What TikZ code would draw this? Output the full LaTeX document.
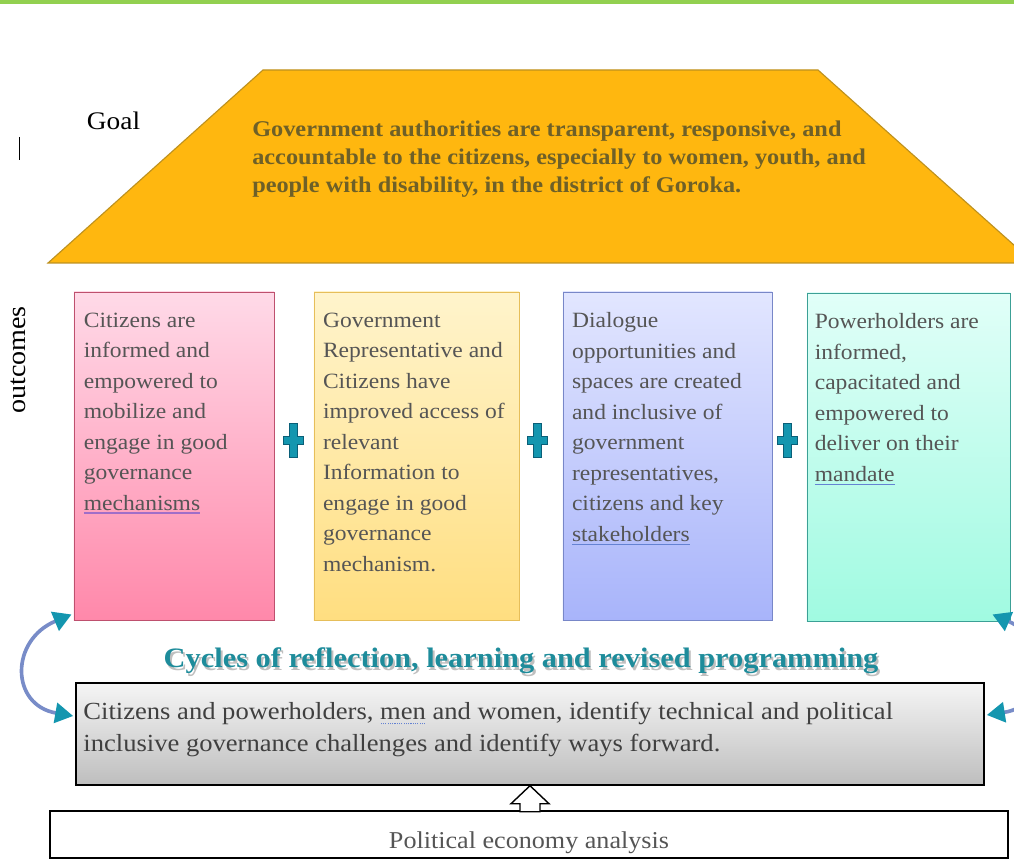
\documentclass[tikz,border=0pt]{standalone}
\usepackage{fontspec}
\setmainfont{Liberation Serif}[FakeStretch=1.08]
\usetikzlibrary{arrows.meta, positioning}

\definecolor{topbar}{RGB}{146,208,80}
\definecolor{goalfill}{RGB}{255,183,15}
\definecolor{goalline}{RGB}{190,145,30}
\definecolor{goalink}{RGB}{110,96,40}
\definecolor{boxtext}{RGB}{85,85,85}
\definecolor{pinktop}{RGB}{255,218,232}
\definecolor{pinkbot}{RGB}{255,136,170}
\definecolor{pinkline}{RGB}{190,80,110}
\definecolor{yeltop}{RGB}{255,244,204}
\definecolor{yelbot}{RGB}{255,222,128}
\definecolor{yelline}{RGB}{230,190,90}
\definecolor{bluetop}{RGB}{226,230,255}
\definecolor{bluebot}{RGB}{168,180,250}
\definecolor{blueline}{RGB}{120,135,200}
\definecolor{cyantop}{RGB}{225,255,248}
\definecolor{cyanbot}{RGB}{160,250,225}
\definecolor{cyanline}{RGB}{60,160,150}
\definecolor{plusfill}{RGB}{20,150,175}
\definecolor{plusline}{RGB}{10,95,120}
\definecolor{cycleink}{RGB}{30,140,155}
\definecolor{graytop}{RGB}{245,245,245}
\definecolor{graybot}{RGB}{190,190,190}
\definecolor{loopblue}{RGB}{120,140,200}
\definecolor{markpurple}{RGB}{160,110,200}
\definecolor{markblue}{RGB}{100,130,210}

% coloured marks under single words
\newsavebox{\markbox}
\newcommand{\wavemark}[2]{\sbox{\markbox}{#2}%
  \rlap{\textcolor{#1}{\rule[-0.35ex]{\wd\markbox}{0.9pt}}}\usebox{\markbox}}
\newcommand{\dotmark}[2]{\sbox{\markbox}{#2}%
  \rlap{\textcolor{#1}{\hbox to \wd\markbox{\xleaders\hbox to 1.6pt{\hss\rule[-0.4ex]{0.8pt}{0.8pt}\hss}\hfill}}}\usebox{\markbox}}

\begin{document}
\begin{tikzpicture}[x=0.025cm, y=-0.025cm,
    outbox/.style={draw, line width=0.6pt, minimum height=8.2cm, inner sep=0pt},
    outtext/.style={align=left, inner sep=0pt, text=boxtext,
                    font=\fontsize{15.5}{21.7}\selectfont},
    loopline/.style={line width=2.6pt, draw=loopblue,
                     {Triangle[length=0.45cm, width=0.5cm, color=plusfill]}-{Triangle[length=0.45cm, width=0.5cm, color=plusfill]}},
    plussign/.pic={
      \filldraw[fill=plusfill, draw=plusline, line width=0.5pt]
        (-4,-17) -- (4,-17) -- (4,-4) -- (10,-4) -- (10,4) -- (4,4) -- (4,17)
        -- (-4,17) -- (-4,4) -- (-10,4) -- (-10,-4) -- (-4,-4) -- cycle;
    },
  ]
    \useasboundingbox (0,0) rectangle (1014,860);
    \clip (0,0) rectangle (1014,860);

    % green bar on top
    \fill[topbar] (0,0) rectangle (1014,4);

    % goal roof
    \filldraw[fill=goalfill, draw=goalline, line width=0.8pt]
      (263,70) -- (818,70) -- (1034,263) -- (48,263) -- cycle;
    \node[anchor=west, font=\fontsize{18}{20}\selectfont] (goal) at (82,121) {Goal};
    \draw[line width=0.6pt] (19,137) -- (19,160);
    \node[anchor=north west, inner sep=0pt, align=left, text=goalink,
          font=\bfseries\fontsize{16}{19.9}\selectfont] (goaltext) at (252,121)
      {Government authorities are transparent, responsive, and\\
       accountable to the citizens, especially to women, youth, and\\
       people with disability, in the district of Goroka.};

    % outcome boxes
    \node[rotate=90, font=\fontsize{18.5}{20}\selectfont] (outcomes) at (18,360) {outcomes};
    \node[outbox, minimum width=5cm, top color=pinktop, bottom color=pinkbot,
          draw=pinkline] (oc1) at (174,456) {};
    \node[outbox, minimum width=5.125cm, top color=yeltop, bottom color=yelbot,
          draw=yelline] (oc2) at (416.5,456) {};
    \node[outbox, minimum width=5.225cm, top color=bluetop, bottom color=bluebot,
          draw=blueline] (oc3) at (667.5,456) {};
    \node[outbox, minimum width=5.075cm, top color=cyantop, bottom color=cyanbot,
          draw=cyanline] (oc4) at (908.5,457) {};

    \node[outtext, below right=0.52cm and 0.25cm of oc1.north west] (oc1text)
      {Citizens are\\informed and\\empowered to\\mobilize and\\engage in good\\
       governance\\\wavemark{markpurple}{mechanisms}};
    \node[outtext, below right=0.52cm and 0.23cm of oc2.north west] (oc2text)
      {Government\\Representative and\\Citizens have\\improved access of\\relevant\\
       Information to\\engage in good\\governance\\mechanism.};
    \node[outtext, below right=0.52cm and 0.23cm of oc3.north west] (oc3text)
      {Dialogue\\opportunities and\\spaces are created\\and inclusive of\\government\\
       representatives,\\citizens and key\\\wavemark{markblue}{stakeholders}};
    \node[outtext, below right=0.52cm and 0.2cm of oc4.north west] (oc4text)
      {Powerholders are\\informed,\\capacitated and\\empowered to\\deliver on their\\
       \wavemark{markblue}{mandate}};

    % plus signs between the boxes
    \foreach \px in {293, 537, 787}
      \pic at (\px,440) {plussign};

    % reflection cycle
    \node[text=black!25, font=\bfseries\fontsize{20}{24}\selectfont] (cycleshadow) at (523,664)
      {Cycles of reflection, learning and revised programming};
    \node[text=cycleink, font=\bfseries\fontsize{20}{24}\selectfont] (cycle) at (521,661)
      {Cycles of reflection, learning and revised programming};

    \node[draw, line width=1pt, minimum width=22.7cm, minimum height=2.55cm,
          top color=graytop, bottom color=graybot] (graybox) at (530,734) {};
    \node[outtext, text=black!75, font=\fontsize{17.5}{22.8}\selectfont,
          below right=0.5cm and 0.2cm of graybox.north west] (graytext)
      {Citizens and powerholders, \dotmark{markblue}{men} and women, identify technical and political\\
       inclusive governance challenges and identify ways forward.};

    \draw[loopline] ([shift={(-2,-6)}]oc1.south west)
      .. controls (10,640) and (10,705) .. ([shift={(-2,-18)}]graybox.west);
    \draw[loopline] ([shift={(-18,-7)}]oc4.south east)
      .. controls (1052,640) and (1052,705) .. ([shift={(2,-19)}]graybox.east);

    % analysis base
    \node[draw, line width=1.2pt, fill=white, minimum width=23.95cm,
          minimum height=1.175cm] (polbox) at (529,834.5) {};
    \node[text=boxtext, font=\fontsize{17.2}{20}\selectfont] (polname) at (529,843)
      {Political economy analysis};
    \filldraw[fill=white, draw=black, line width=1pt, line join=miter]
      (graybox.south) -- ++(19,18) -- ++(-9,0) -- ++(0,8) -- ++(-20,0)
      -- ++(0,-8) -- ++(-9,0) -- cycle;
\end{tikzpicture}
\end{document}
